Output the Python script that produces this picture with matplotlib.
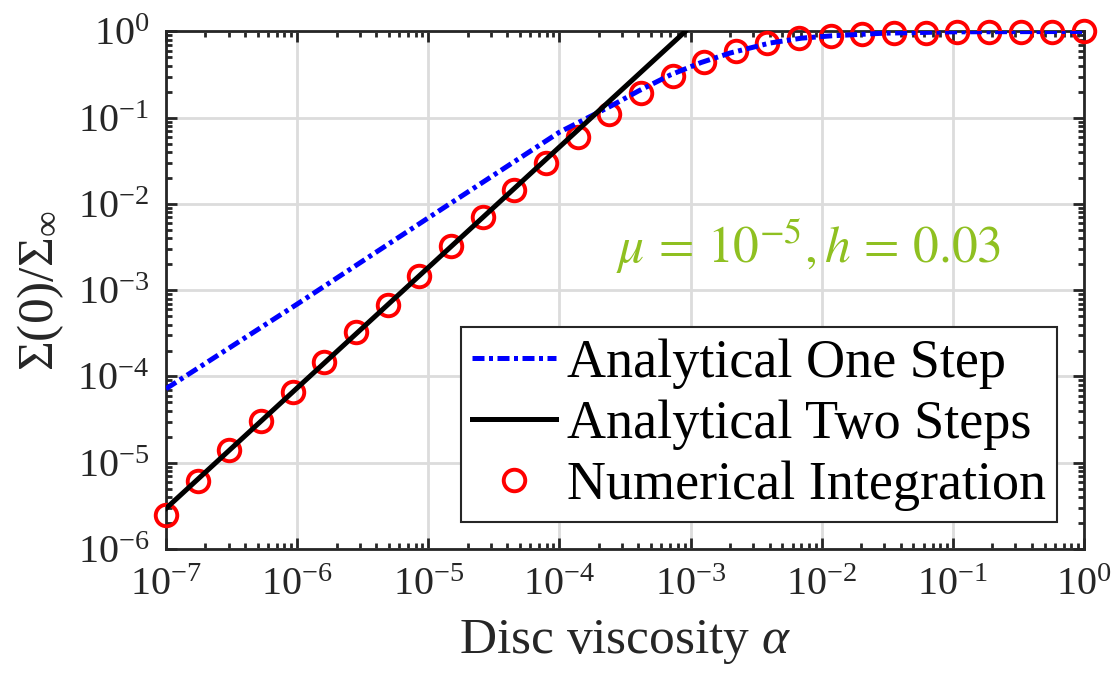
import matplotlib
matplotlib.use("Agg")
import matplotlib.pyplot as plt
import numpy as np
from matplotlib.ticker import FixedLocator, FuncFormatter, LogLocator, NullFormatter

plt.rcParams["font.family"] = ["Liberation Serif", "DejaVu Serif"]
plt.rcParams["mathtext.fontset"] = "custom"
plt.rcParams["mathtext.rm"] = "Liberation Serif"
plt.rcParams["mathtext.it"] = "Liberation Serif:italic"
plt.rcParams["mathtext.bf"] = "Liberation Serif:bold"

# numerical integration, 30 log-spaced viscosities
alpha_num = np.logspace(-7, 0, 30)
sigma_num = [
    2.48e-6, 6.14e-6, 1.40e-5, 3.04e-5, 6.56e-5, 1.49e-4, 3.29e-4, 6.70e-4,
    1.47e-3, 3.24e-3, 7.0e-3, 1.44e-2, 2.95e-2, 5.9e-2, 0.111, 0.194,
    0.302, 0.447, 0.592, 0.733, 0.83, 0.875, 0.923, 0.955, 0.97, 0.98,
    0.985, 0.99, 0.995, 1.0,
]

# analytical one-step solution
alpha_one = [1e-7, 1e-6, 1e-5, 1e-4, 2.5e-4, 4e-4, 7e-4, 1.2e-3, 2e-3,
             4e-3, 7e-3, 1.2e-2, 3e-2, 1e-1, 1.0]
sigma_one = [7.2e-5, 6.9e-4, 6.9e-3, 6.8e-2, 0.138, 0.204, 0.313, 0.436,
             0.562, 0.733, 0.836, 0.891, 0.955, 0.99, 1.0]

# analytical two-step solution (power law)
alpha_two = [1e-7, 9.1e-4]
sigma_two = [2.95e-6, 1.0]

x_decades = np.arange(-7, 1)
y_decades = np.arange(-6, 1)

fig = plt.figure(figsize=(11.17, 6.75), dpi=100)
ax = fig.add_axes([0.1486, 0.1867, 0.8219, 0.7667])

ax.plot(alpha_one, sigma_one, color="#0000ff", linewidth=3.6,
        dashes=(2.4, 0.9, 0.8, 0.9), dash_capstyle="butt",
        label="Analytical One Step", zorder=4)
ax.plot(alpha_two, sigma_two, color="black", linewidth=3.6,
        label="Analytical Two Steps", zorder=4)
ax.plot(alpha_num, sigma_num, linestyle="none", marker="o", markersize=15.5,
        markerfacecolor="none", markeredgecolor="#ff0000", markeredgewidth=2.8,
        label="Numerical Integration", zorder=3, clip_on=False)

ax.set_xscale("log")
ax.set_yscale("log")
ax.set_xlim(1e-7, 1e0)
ax.set_ylim(1e-6, 1e0)

ax.xaxis.set_major_locator(FixedLocator(10.0 ** x_decades))
ax.yaxis.set_major_locator(FixedLocator(10.0 ** y_decades))
ax.xaxis.set_minor_locator(LogLocator(base=10, subs=np.arange(2, 10), numticks=20))
ax.yaxis.set_minor_locator(LogLocator(base=10, subs=np.arange(2, 10), numticks=20))
ax.xaxis.set_minor_formatter(NullFormatter())
ax.yaxis.set_minor_formatter(NullFormatter())
decade_fmt = FuncFormatter(lambda v, pos: r"$\mathregular{10^{%d}}$" % round(np.log10(v)))
ax.xaxis.set_major_formatter(decade_fmt)
ax.yaxis.set_major_formatter(decade_fmt)

ax.tick_params(which="both", direction="in", top=True, right=True,
               width=2.0, color="#262626", labelsize=29, labelcolor="#262626")
ax.tick_params(axis="x", which="major", length=8, pad=13)
ax.tick_params(axis="y", which="major", length=8, pad=12)
ax.tick_params(which="minor", length=4.5)
for side in ax.spines.values():
    side.set_linewidth(2.0)
    side.set_color("#262626")

ax.grid(True, which="major", color="#dcdcdc", linewidth=2.0)
ax.set_axisbelow(True)

ax.set_xlabel(r"Disc viscosity $\alpha$", fontsize=37, color="#262626", labelpad=10)
ax.set_ylabel(r"$\Sigma(0)/\Sigma_\infty$", fontsize=37, color="#262626", labelpad=8)

ax.text(0.70, 0.585, r"$\mu\,=\,10^{-5},h\,=\,0.03$", transform=ax.transAxes,
        fontsize=37, color="#8fc021", ha="center", va="center",
        math_fontfamily="stix")

leg = ax.legend(loc="lower right", bbox_to_anchor=(0.970, 0.052),
                borderaxespad=0, fontsize=39, handlelength=1.55,
                handletextpad=0.2, labelspacing=0.2, borderpad=0.2,
                fancybox=False, framealpha=1.0)
leg.get_frame().set_edgecolor("#262626")
leg.get_frame().set_linewidth(1.5)

fig.savefig("out.png", dpi=100)
